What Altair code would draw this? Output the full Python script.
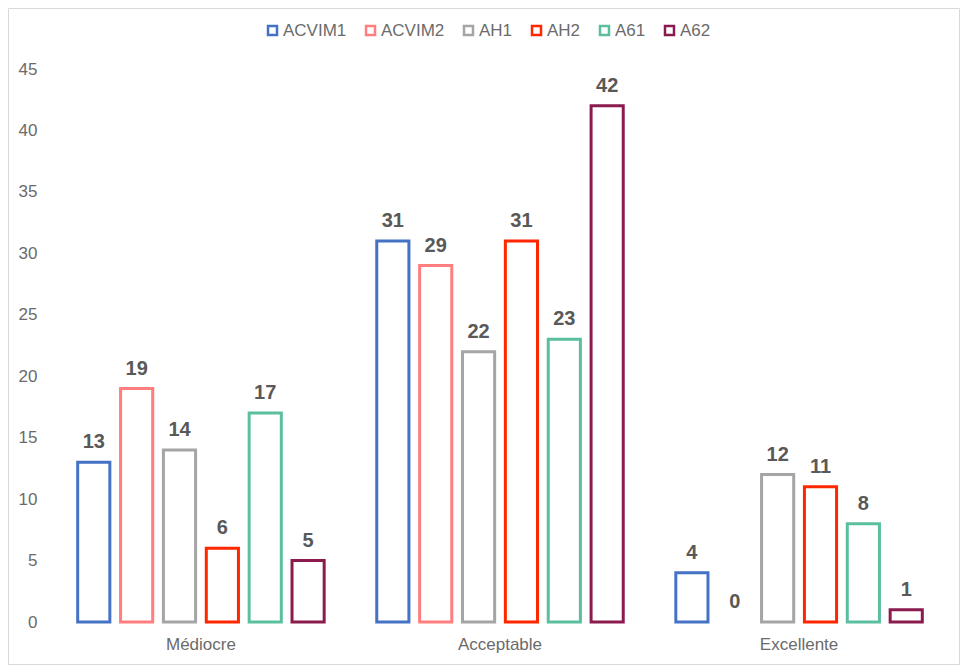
import altair as alt
import pandas as pd

categories = ["Médiocre", "Acceptable", "Excellente"]
series = ["ACVIM1", "ACVIM2", "AH1", "AH2", "A61", "A62"]
colors = ["#4472C4", "#FF7F7F", "#A5A5A5", "#FF2600", "#5BBF9F", "#8B1A4F"]
values = {
    "ACVIM1": [13, 31, 4],
    "ACVIM2": [19, 29, 0],
    "AH1": [14, 22, 12],
    "AH2": [6, 31, 11],
    "A61": [17, 23, 8],
    "A62": [5, 42, 1],
}

rows = []
for s in series:
    for c, v in zip(categories, values[s]):
        rows.append({"cat": c, "serie": s, "val": v})
df = pd.DataFrame(rows)

FONT = "Liberation Sans"
W, H = 896, 553

x = alt.X("cat:N", sort=categories, title=None,
          scale=alt.Scale(paddingInner=0.14, paddingOuter=0.068),
          axis=alt.Axis(labelAngle=0, labelFontSize=17, labelColor="#6b6b6b",
                        labelFont=FONT, domain=False, ticks=False, labelPadding=14))
xo = alt.XOffset("serie:N", sort=series,
                 scale=alt.Scale(paddingInner=0.25, paddingOuter=0.125))
y = alt.Y("val:Q", title=None,
          scale=alt.Scale(domain=[0, 45], nice=False),
          axis=alt.Axis(values=list(range(0, 50, 5)), grid=False, domain=False, ticks=False,
                        labelFontSize=17, labelColor="#6b6b6b", labelFont=FONT,
                        labelPadding=15))
color = alt.Color("serie:N", sort=series, title=None,
                  scale=alt.Scale(domain=series, range=colors),
                  legend=alt.Legend(orient="none", direction="horizontal",
                                    legendX=212, legendY=-47,
                                    symbolType="square", symbolSize=81,
                                    symbolFillColor="white", symbolStrokeWidth=2.5,
                                    labelFontSize=17, labelColor="#6b6b6b", labelFont=FONT,
                                    labelOffset=2, columnPadding=14))

base = alt.Chart(df)

bars = base.transform_filter(alt.datum.val > 0).mark_bar(
    fill="white", strokeWidth=3
).encode(x=x, xOffset=xo, y=y, stroke=color)

labels = base.mark_text(
    baseline="bottom", dy=-10, fontSize=20, fontWeight="bold", color="#595959", font=FONT
).encode(x=x, xOffset=xo, y=y, text="val:Q")

frame = alt.Chart(pd.DataFrame({"a": [0]})).mark_rect(
    fill=None, stroke="#D9D9D9", strokeWidth=1
).encode(x=alt.value(-43.5), x2=alt.value(W + 11.5),
         y=alt.value(-60.5), y2=alt.value(H + 42.5))

chart = alt.layer(frame, bars, labels).properties(
    width=W, height=H,
    autosize=alt.AutoSizeParams(type="none"),
    padding={"left": 44, "top": 61, "right": 12, "bottom": 43},
).configure(background="white").configure_view(strokeWidth=0, stroke="transparent")

chart.save("out.html", embed_options={"renderer": "svg", "actions": False})
